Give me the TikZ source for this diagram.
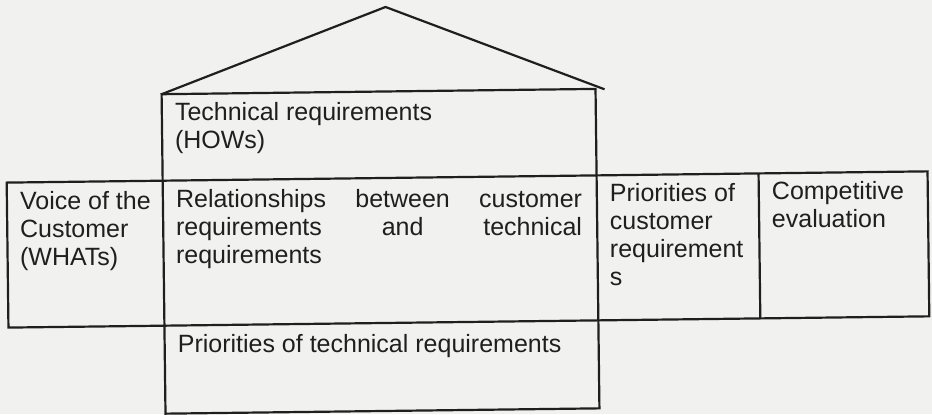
\documentclass[tikz,border=0pt]{standalone}
\usepackage{fontspec}
\setmainfont{Liberation Sans}
\usepackage{xcolor}
\definecolor{cPaper}{HTML}{F1F1EF}
\definecolor{cInk}  {HTML}{1F1F1F}
\usetikzlibrary{positioning}
\tikzset{
  frame/.style = {draw=cInk, line width=1.1pt, line join=miter},
  cell/.style  = {anchor=north west, align=left, text=cInk,
                  inner xsep=6.5pt, inner ysep=4pt,
                  font=\fontsize{12.5}{14}\selectfont},
}

\begin{document}
\begin{tikzpicture}[x=0.5pt, y=-0.5pt]

  %% Paper
  \fill[cPaper] (0,0) rectangle (932,414);
  \useasboundingbox (0,0) rectangle (932,414);

  \begin{scope}[rotate around={0.7:(466,207)}]

  %% Corners of the house body and of the middle row
  \coordinate (hTL) at (163,90.5);
  \coordinate (hBR) at (597,410);
  \coordinate (rTL) at (7,177);
  \coordinate (rBR) at (928,322);
  \coordinate (apex) at (388,6);
  \coordinate (eave) at (606,91);
  \coordinate (sepT) at (759,177);
  \coordinate (sepB) at (759,322);

  %% Roof, body and row
  \draw[frame] (hTL) -- (apex) -- (eave);
  \draw[frame] (hTL) rectangle (hBR);
  \draw[frame] (rTL) rectangle (rBR);
  \draw[frame] (sepT) -- (sepB);

  %% Cell texts
  \node[cell] (hows) at (hTL)
        {Technical requirements\\(HOWs)};
  \node[cell] (whats) at (rTL)
        {Voice of the\\Customer\\(WHATs)};
  \node[cell] (rel) at (hTL |- rTL)
        {\makebox[203pt][l]{Relationships\hfill between\hfill customer}\\
         \makebox[203pt][l]{requirements\hfill and\hfill technical}\\
         requirements};
  \node[cell] (cpri) at (hBR |- rTL)
        {Priorities of\\customer\\requirement\\s};
  \node[cell] (comp) at (sepT)
        {Competitive\\evaluation};
  \node[cell] (tpri) at (hTL |- rBR)
        {Priorities of technical requirements};

  \end{scope}

\end{tikzpicture}
\end{document}
